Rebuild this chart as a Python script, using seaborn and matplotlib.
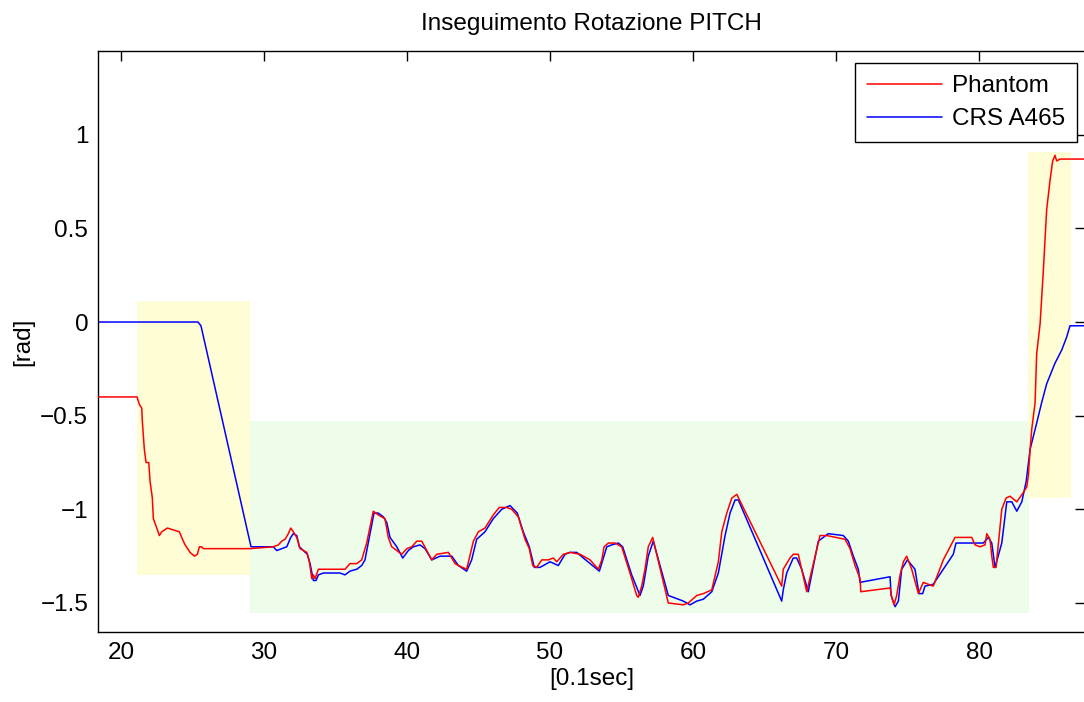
import numpy as np
import pandas as pd
import seaborn as sns
import matplotlib
matplotlib.use("Agg")
import matplotlib.pyplot as plt

# ---------------- data ----------------
phantom_x = [18.0, 21.12, 21.28, 21.45, 21.49, 21.63, 21.75, 21.94, 22.03, 22.19, 22.26, 22.50, 22.68, 22.85,
             23.24, 23.66, 24.08, 24.24, 24.48, 24.83, 25.13, 25.34, 25.48, 25.64, 25.76, 29.02, 30.65, 31.00,
             31.24, 31.47, 31.70, 31.87, 32.05, 32.29, 32.52, 32.75, 32.99, 33.17, 33.34, 33.45, 33.57, 33.80,
             34.62, 35.08, 35.31, 35.66, 36.01, 36.48, 36.83, 37.18, 37.64, 37.99, 38.23, 38.46, 38.69, 38.93,
             39.28, 39.63, 39.98, 40.33, 40.68, 41.03, 41.38, 41.73, 42.08, 42.89, 43.36, 43.59, 44.17, 44.64,
             44.99, 45.45, 46.03, 46.45, 46.97, 47.32, 47.78, 48.25, 48.55, 48.79, 49.07, 49.42, 49.88, 50.23,
             50.47, 50.93, 51.40, 52.10, 52.80, 53.38, 53.62, 53.78, 54.08, 54.55, 55.01, 55.59, 56.06, 56.17,
             56.41, 56.64, 56.87, 57.18, 58.27, 59.32, 59.67, 60.26, 60.72, 61.31, 61.77, 62.01, 62.36, 62.71,
             63.06, 66.20, 66.31, 66.78, 67.01, 67.36, 67.95, 68.88, 69.35, 70.63, 70.98, 71.33, 71.68, 71.73,
             73.78, 73.90, 74.06, 74.24, 74.48, 74.71, 74.94, 75.29, 75.76, 76.10, 76.80, 77.50, 78.32, 79.49,
             79.72, 80.07, 80.42, 80.54, 80.77, 80.89, 81.00, 81.19, 81.59, 81.89, 82.17, 82.64, 83.10, 83.34,
             83.45, 83.57, 83.69, 83.92, 84.03, 84.27, 84.38, 84.50, 84.62, 84.73, 84.97, 85.15, 85.31, 85.43,
             85.66, 88.0]
phantom_y = [-0.40, -0.40, -0.44, -0.46, -0.53, -0.68, -0.75, -0.75, -0.85, -0.94, -1.05, -1.10, -1.14, -1.12,
             -1.10, -1.11, -1.12, -1.15, -1.19, -1.23, -1.25, -1.24, -1.20, -1.20, -1.21, -1.21, -1.20, -1.19,
             -1.17, -1.16, -1.13, -1.10, -1.12, -1.15, -1.21, -1.22, -1.23, -1.28, -1.37, -1.35, -1.37, -1.32,
             -1.32, -1.32, -1.32, -1.32, -1.29, -1.29, -1.27, -1.18, -1.01, -1.03, -1.04, -1.05, -1.15, -1.20,
             -1.22, -1.24, -1.21, -1.20, -1.17, -1.17, -1.22, -1.27, -1.24, -1.23, -1.29, -1.30, -1.32, -1.17,
             -1.12, -1.10, -1.03, -0.99, -0.99, -1.00, -1.04, -1.16, -1.21, -1.30, -1.31, -1.27, -1.27, -1.26,
             -1.28, -1.24, -1.23, -1.24, -1.27, -1.32, -1.27, -1.20, -1.18, -1.18, -1.20, -1.34, -1.46, -1.47,
             -1.41, -1.32, -1.20, -1.15, -1.50, -1.51, -1.50, -1.46, -1.45, -1.43, -1.28, -1.12, -1.02, -0.94,
             -0.92, -1.41, -1.32, -1.26, -1.24, -1.24, -1.44, -1.14, -1.14, -1.16, -1.21, -1.30, -1.37, -1.44,
             -1.42, -1.47, -1.51, -1.46, -1.35, -1.28, -1.25, -1.32, -1.45, -1.39, -1.41, -1.27, -1.15, -1.15,
             -1.19, -1.20, -1.19, -1.13, -1.16, -1.25, -1.31, -1.31, -1.00, -0.94, -0.93, -0.96, -0.91, -0.88,
             -0.82, -0.68, -0.57, -0.43, -0.17, -0.01, 0.13, 0.28, 0.45, 0.60, 0.76, 0.86, 0.89, 0.86,
             0.87, 0.87]

crs_x = [18.0, 25.38, 25.59, 29.09, 30.65, 30.89, 31.24, 31.59, 31.87, 32.05, 32.29, 32.47, 32.75, 33.03,
         33.22, 33.45, 33.64, 33.80, 34.15, 35.31, 35.66, 36.01, 36.48, 36.83, 37.06, 37.41, 37.69, 37.99,
         38.34, 38.58, 38.81, 39.28, 39.70, 40.09, 40.44, 40.91, 41.26, 41.73, 42.31, 43.13, 43.59, 44.17,
         44.52, 44.87, 45.45, 46.03, 46.62, 47.20, 47.71, 48.13, 48.55, 48.90, 49.30, 50.00, 50.58, 51.05,
         51.40, 51.87, 52.33, 53.45, 53.73, 53.97, 54.31, 54.78, 55.08, 55.71, 56.29, 56.52, 56.87, 57.22,
         58.27, 58.62, 59.32, 59.79, 60.26, 60.72, 61.31, 61.77, 62.24, 62.59, 62.94, 63.17, 66.20, 66.31,
         66.55, 67.01, 67.25, 67.60, 68.06, 68.76, 69.46, 70.51, 70.86, 71.21, 71.56, 71.68, 73.78, 73.85,
         74.13, 74.36, 74.59, 74.99, 75.52, 75.80, 76.06, 76.22, 76.80, 78.20, 78.39, 80.30, 80.65, 80.89,
         81.12, 81.59, 81.94, 82.29, 82.64, 82.99, 83.30, 83.57, 84.03, 84.38, 84.73, 85.31, 85.78, 86.13,
         86.36, 88.0]
crs_y = [0.0, 0.0, -0.02, -1.20, -1.20, -1.22, -1.21, -1.20, -1.15, -1.13, -1.14, -1.20, -1.22, -1.24,
         -1.29, -1.38, -1.38, -1.35, -1.34, -1.34, -1.35, -1.33, -1.32, -1.30, -1.27, -1.13, -1.02, -1.02,
         -1.04, -1.07, -1.15, -1.20, -1.26, -1.22, -1.20, -1.19, -1.21, -1.27, -1.25, -1.25, -1.30, -1.33,
         -1.27, -1.16, -1.12, -1.05, -1.00, -0.98, -1.02, -1.12, -1.20, -1.31, -1.31, -1.28, -1.30, -1.24,
         -1.23, -1.23, -1.26, -1.33, -1.26, -1.20, -1.19, -1.18, -1.20, -1.35, -1.46, -1.41, -1.25, -1.17,
         -1.46, -1.47, -1.49, -1.51, -1.49, -1.48, -1.44, -1.34, -1.14, -1.02, -0.95, -0.95, -1.49, -1.43,
         -1.34, -1.26, -1.26, -1.32, -1.44, -1.17, -1.13, -1.14, -1.17, -1.25, -1.32, -1.39, -1.36, -1.46,
         -1.52, -1.49, -1.32, -1.27, -1.32, -1.45, -1.45, -1.41, -1.40, -1.24, -1.18, -1.18, -1.15, -1.18,
         -1.31, -1.18, -0.96, -0.96, -1.01, -0.96, -0.85, -0.68, -0.54, -0.43, -0.33, -0.22, -0.15, -0.08,
         -0.02, -0.02]

region_x0 = [21.1, 29.0, 83.4]
region_x1 = [29.0, 83.5, 86.4]
region_y0 = [-1.35, -1.555, -0.94]
region_y1 = [0.11, -0.527, 0.91]
region_colors = ["#FFFDD5", "#EEFCEA", "#FFFDD5"]

series_names = ["Phantom", "CRS A465"]
series_colors = ["#FF0000", "#0000FF"]
x_ticks = [20, 30, 40, 50, 60, 70, 80]
y_ticks = [-1.5, -1, -0.5, 0, 0.5, 1]
y_ticklabels = ["\u22121.5", "\u22121", "\u22120.5", "0", "0.5", "1"]

# ---------------- plot ----------------
sns.set_theme(style="white")
plt.rcParams["font.family"] = ["Liberation Sans", "DejaVu Sans"]
plt.rcParams["text.color"] = "black"
plt.rcParams["axes.labelcolor"] = "black"

FS = 17.5
W, H = 1084, 702
fig = plt.figure(figsize=(W / 100, H / 100), dpi=100)
ax = fig.add_axes([98 / W, (H - 632) / H, (1085 - 98) / W, (632 - 51) / H])

for x0, x1, y0, y1, c in zip(region_x0, region_x1, region_y0, region_y1, region_colors):
    ax.fill_between([x0, x1], [y0, y0], [y1, y1], color=c, lw=0, zorder=0)

df_p = pd.DataFrame({"x": phantom_x, "y": phantom_y})
df_c = pd.DataFrame({"x": crs_x, "y": crs_y})
sns.lineplot(data=df_p, x="x", y="y", color=series_colors[0], lw=1.1, sort=False,
             estimator=None, label=series_names[0], ax=ax, zorder=3)
sns.lineplot(data=df_c, x="x", y="y", color=series_colors[1], lw=1.1, sort=False,
             estimator=None, label=series_names[1], ax=ax, zorder=2)

ax.set_xlim(18.39, 87.41)
ax.set_ylim(-1.655, 1.447)
ax.set_xticks(x_ticks)
ax.set_yticks(y_ticks)
ax.set_yticklabels(y_ticklabels)
ax.tick_params(direction="in", length=7, width=1, top=True, right=True,
               labelsize=FS, colors="black", pad=7)
for s in ax.spines.values():
    s.set_color("black")
    s.set_linewidth(1.0)

ax.set_title("Inseguimento Rotazione PITCH", fontsize=FS, pad=15, color="black")
ax.set_xlabel("[0.1sec]", fontsize=FS, labelpad=3, color="black")
ax.set_ylabel("[rad]", fontsize=FS, labelpad=4, color="black")

leg = ax.legend(loc="upper right", bbox_to_anchor=(1077 / W, (H - 63) / H),
                bbox_transform=fig.transFigure, fontsize=FS, frameon=True, fancybox=False,
                framealpha=1, edgecolor="black", handlelength=3.1, borderpad=0.5,
                labelspacing=0.45, handletextpad=0.4, borderaxespad=0)
leg.get_frame().set_linewidth(1.0)
for t in leg.get_texts():
    t.set_color("black")

fig.savefig("out.png", dpi=100, facecolor="white")
